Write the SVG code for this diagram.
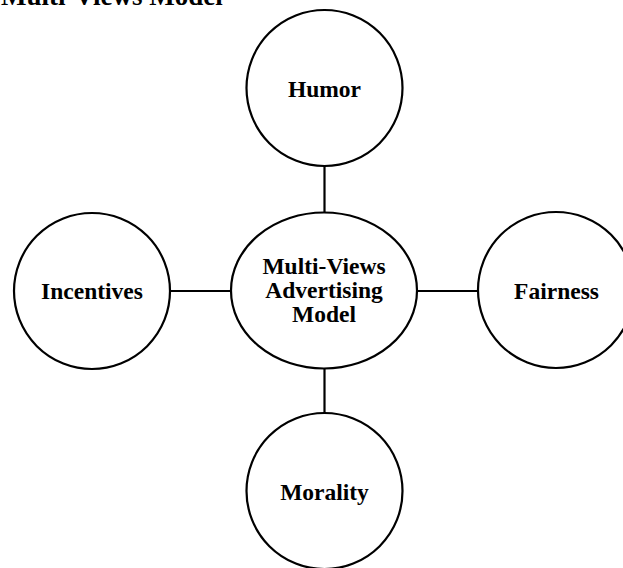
<svg xmlns="http://www.w3.org/2000/svg" width="623" height="568" viewBox="0 0 623 568">
<style>
.n{fill:#fff;stroke:#000;stroke-width:2.2}
.t{font-family:"Liberation Serif","Times New Roman",serif;font-weight:bold;font-size:23.5px;fill:#000;text-anchor:middle}
.c{stroke:#000;stroke-width:2.2;fill:none}
</style>
<rect width="623" height="568" fill="#fff"/>
<text x="1" y="5" style="font-family:'Liberation Serif','Times New Roman',serif;font-weight:bold;font-size:27px">Multi-Views Model</text>
<g id="connectors">
<line class="c" x1="324.5" y1="166" x2="324.5" y2="213"/>
<line class="c" x1="324.5" y1="368" x2="324.5" y2="413"/>
<line class="c" x1="170" y1="291" x2="231" y2="291"/>
<line class="c" x1="417" y1="291" x2="478" y2="291"/>
</g>
<g id="center">
<ellipse class="n" cx="324" cy="290.5" rx="93" ry="78"/>
<text class="t" x="324" y="273.5">Multi-Views</text>
<text class="t" x="324" y="298">Advertising</text>
<text class="t" x="324" y="322">Model</text>
</g>
<g id="humor">
<circle class="n" cx="324.5" cy="88" r="78"/>
<text class="t" x="324.5" y="96.5">Humor</text>
</g>
<g id="incentives">
<circle class="n" cx="92" cy="291" r="78"/>
<text class="t" x="92" y="299">Incentives</text>
</g>
<g id="fairness">
<circle class="n" cx="556" cy="290" r="78"/>
<text class="t" x="556.5" y="298.5">Fairness</text>
</g>
<g id="morality">
<circle class="n" cx="324.5" cy="491" r="78"/>
<text class="t" x="324.5" y="499.5">Morality</text>
</g>
</svg>
